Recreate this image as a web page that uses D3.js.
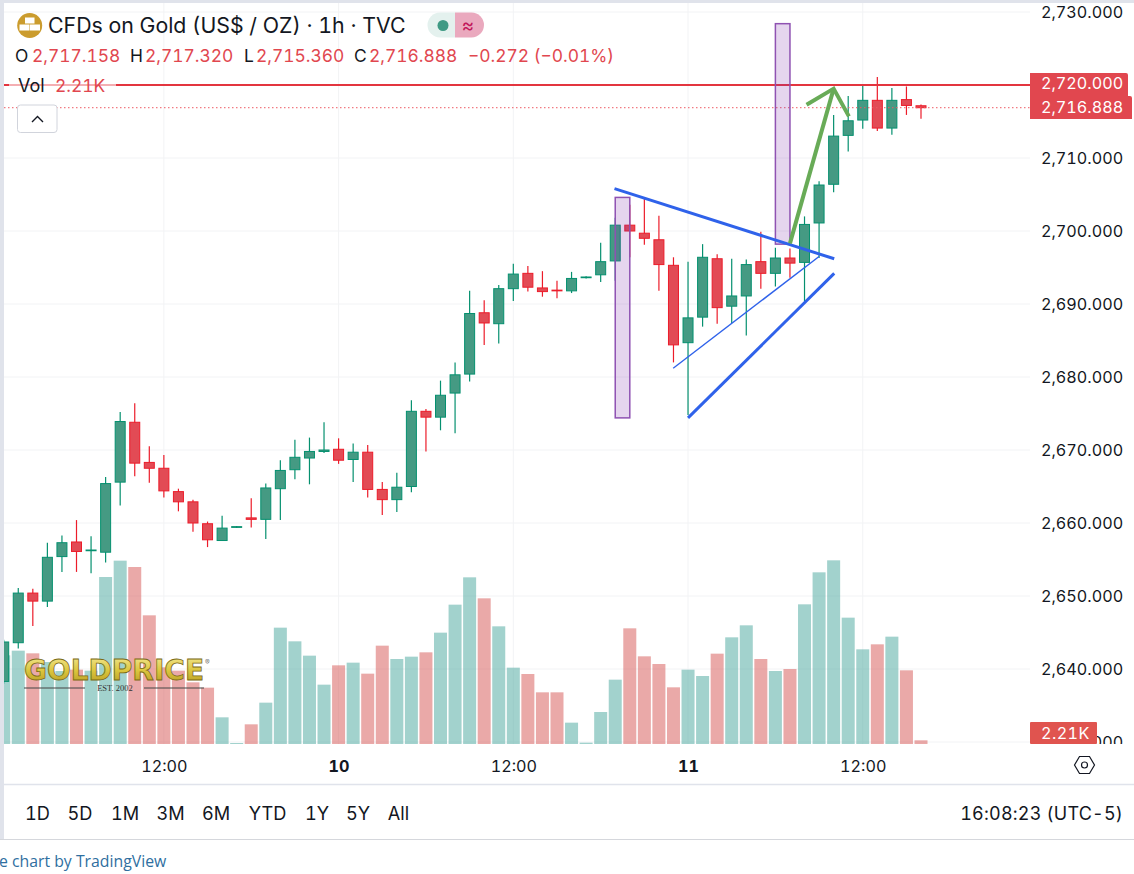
<!DOCTYPE html>
<html>
<head>
<meta charset="utf-8">
<script src="https://cdn.jsdelivr.net/npm/d3@7"></script>
<style>
	html, body { margin: 0; padding: 0; background: #fff; overflow: hidden; }
	svg { display: block; }
	text { font-family: Inter, "Open Sans", sans-serif; font-variant-numeric: tabular-nums; }
</style>
</head>
<body>
<svg id="canvas" width="1134" height="874"></svg>
<script>
// hourly bars, left to right
var opens = [2638.3,2643.6,2650.4,2649.3,2655.4,2657.4,2656.2,2656.0,2665.6,2673.8,2668.3,2667.5,2664.3,2662.9,2659.9,2657.6,2659.4,2660.7,2660.5,2664.7,2667.3,2668.9,2669.8,2670.1,2668.7,2669.7,2664.6,2663.2,2665.0,2675.3,2674.5,2677.8,2680.4,2688.8,2687.3,2692.1,2694.2,2692.2,2691.9,2691.8,2693.6,2694.0,2695.9,2700.8,2699.7,2698.8,2695.3,2684.7,2688.2,2696.2,2689.7,2691.1,2695.8,2694.2,2696.3,2695.7,2701.1,2706.4,2713.1,2715.2,2717.9,2714.1,2718.0,2717.158];
var highs = [2644.0,2651.1,2651.0,2657.3,2658.3,2660.4,2658.2,2666.3,2675.2,2676.4,2670.5,2669.3,2664.7,2663.2,2660.2,2661.0,2659.6,2663.4,2665.4,2668.6,2671.4,2671.7,2673.8,2671.6,2670.9,2670.7,2665.6,2666.9,2676.8,2675.6,2679.5,2682.0,2691.8,2690.5,2692.6,2695.5,2695.2,2694.5,2693.2,2694.4,2693.8,2698.4,2701.8,2703.6,2704.4,2702.1,2696.4,2695.8,2698.2,2696.8,2696.2,2696.1,2699.9,2697.7,2697.6,2702.0,2706.8,2715.9,2718.5,2720.0,2721.1,2719.6,2719.8,2717.32];
var lows = [2638.0,2642.8,2645.9,2648.5,2653.3,2653.3,2653.1,2654.6,2662.4,2666.4,2665.5,2663.5,2661.6,2658.8,2656.7,2657.6,2659.3,2659.4,2657.8,2660.4,2666.0,2665.3,2669.6,2668.1,2665.6,2663.5,2661.1,2661.5,2664.2,2669.8,2672.7,2672.3,2679.4,2684.4,2684.6,2690.4,2691.7,2691.0,2690.8,2691.5,2693.5,2693.0,2693.2,2696.4,2698.1,2691.8,2682.0,2674.8,2686.9,2687.3,2687.4,2685.7,2692.1,2692.4,2693.6,2690.4,2696.3,2705.3,2710.9,2714.0,2713.7,2713.2,2715.9,2715.36];
var closes = [2643.7,2650.4,2649.3,2655.3,2657.3,2656.1,2656.3,2665.4,2673.9,2668.2,2667.5,2664.4,2662.9,2660.0,2657.7,2659.3,2659.5,2660.5,2664.8,2667.2,2669.0,2669.8,2670.0,2668.6,2669.7,2664.6,2663.2,2664.9,2675.3,2674.5,2677.5,2680.3,2688.7,2687.4,2692.1,2694.1,2692.3,2691.7,2691.8,2693.5,2693.7,2695.8,2700.8,2700.0,2699.0,2695.4,2684.4,2688.1,2696.4,2689.5,2691.1,2695.4,2694.2,2696.3,2695.6,2700.9,2706.3,2713.0,2715.1,2717.9,2714.1,2717.9,2717.2,2716.888];
var volumes = [53.2,56.0,54.4,49.2,43.8,44.6,44.0,100.2,110.0,106.2,77.2,46.0,44.0,37.0,33.8,16.0,0.6,11.8,24.8,69.8,61.6,53.0,35.6,47.2,48.8,42.2,59.0,51.0,52.4,55.0,66.8,83.6,100.0,87.4,70.6,45.8,42.0,31.0,31.0,12.8,0.8,19.2,38.6,69.4,52.6,48.0,34.0,44.6,40.8,54.2,64.0,71.2,51.0,43.8,45.0,83.8,103.0,110.2,75.8,56.8,59.8,64.4,44.2,2.21];

var priceTicks = [2730,2720,2710,2700,2690,2680,2670,2660,2650,2640,2630];
var timeTicks = [11,23,35,47,59];
var timeLabels = ["12:00","10","12:00","11","12:00"];
var rangeLabels = ["1D","5D","1M","3M","6M","YTD","1Y","5Y","All"];
var rangeX = [37.5,80,125,170.5,216,267.5,317,358,398.5];

// drawings on the chart, [bar index, price]
var trendLines = [
	{from: [41.95,2705.8], to: [57.04,2696.2], w: 3},
	{from: [47.0,2674.4], to: [57.04,2694.2], w: 3},
	{from: [45.98,2681.2], to: [56.0,2696.5], w: 1.4}
];
var boxes = [
	{i0: 42, i1: 43, top: 2704.6, bottom: 2674.4},
	{i0: 53, i1: 54, top: 2728.4, bottom: 2698.2}
];
var arrowShaft = [[54.0,2698.3],[57.0,2719.5]];
var arrowHead = [[55.14,2717.3],[57.0,2719.5],[58.05,2715.7]];
var resistance = 2720;
var lastClose = 2716.888;

var upBody = "#459a83", upLine = "#05906f", downBody = "#e24b55", downLine = "#ec1c2a";
var red = "#e1474f";

var svg = d3.select("#canvas");

var x = d3.scaleLinear().domain([0,63]).range([3.7,921]);
var y = d3.scaleLinear().domain([2630,2730]).range([742,12]);
var vol = d3.scaleLinear().domain([0,120]).range([744,544]);

var bars = d3.range(opens.length).map(function(i){
	return {i: i, o: opens[i], h: highs[i], l: lows[i], c: closes[i], v: volumes[i], up: closes[i] >= opens[i]};
});

var defs = svg.append("defs");
defs.append("clipPath").attr("id", "pane")
	.append("rect").attr("x", 4).attr("y", 3).attr("width", 1026).attr("height", 741);
defs.append("clipPath").attr("id", "scale")
	.append("rect").attr("x", 1030).attr("y", 0).attr("width", 104).attr("height", 744);
var gold = defs.append("linearGradient").attr("id", "gold")
	.attr("x1", 0).attr("y1", 0).attr("x2", 0).attr("y2", 1);
gold.append("stop").attr("offset", "0%").attr("stop-color", "#f5ea9a");
gold.append("stop").attr("offset", "50%").attr("stop-color", "#dcc63e");
gold.append("stop").attr("offset", "100%").attr("stop-color", "#b0941f");

function drawFrame(){
	svg.append("rect").attr("x", 0).attr("y", 0).attr("width", 1134).attr("height", 3).attr("fill", "#e0e3eb");
	svg.append("rect").attr("x", 0).attr("y", 0).attr("width", 4).attr("height", 839).attr("fill", "#e0e3eb");
	svg.append("line").attr("x1", 4).attr("x2", 1134).attr("y1", 784.5).attr("y2", 784.5)
		.attr("stroke", "#e0e3eb").attr("stroke-width", 1.5);
	svg.append("line").attr("x1", 0).attr("x2", 1134).attr("y1", 839.5).attr("y2", 839.5)
		.attr("stroke", "#d5d7dc").attr("stroke-width", 1.2);
}

function drawGrid(pane){
	pane.selectAll(".hgrid")
		.data(priceTicks)
		.enter()
		.append("line")
		.attr("class", "hgrid")
		.attr("x1", 4).attr("x2", 1030)
		.attr("y1", function(d){ return y(d); })
		.attr("y2", function(d){ return y(d); })
		.attr("stroke", "#f2f3f5").attr("stroke-width", 1);
	pane.selectAll(".vgrid")
		.data(timeTicks)
		.enter()
		.append("line")
		.attr("class", "vgrid")
		.attr("x1", function(d){ return x(d); })
		.attr("x2", function(d){ return x(d); })
		.attr("y1", 3).attr("y2", 744)
		.attr("stroke", "#f2f3f5").attr("stroke-width", 1);
}

function drawVolume(pane){
	pane.selectAll(".vol")
		.data(bars)
		.enter()
		.append("rect")
		.attr("class", "vol")
		.attr("x", function(d){ return x(d.i) - 6.5; })
		.attr("width", 13)
		.attr("y", function(d){ return vol(d.v); })
		.attr("height", function(d){ return vol(0) - vol(d.v); })
		.attr("fill", function(d){ return d.up ? "rgba(70,165,155,.5)" : "rgba(213,83,81,.5)"; });
}

function drawCandles(pane){
	var g = pane.selectAll(".candle")
		.data(bars)
		.enter()
		.append("g")
		.attr("class", "candle");
	g.append("line")
		.attr("x1", function(d){ return x(d.i); })
		.attr("x2", function(d){ return x(d.i); })
		.attr("y1", function(d){ return y(d.h); })
		.attr("y2", function(d){ return y(d.l); })
		.attr("stroke", function(d){ return d.up ? upLine : downLine; })
		.attr("stroke-width", 1.2);
	g.append("rect")
		.attr("x", function(d){ return x(d.i) - 5; })
		.attr("width", 10)
		.attr("y", function(d){ return y(Math.max(d.o, d.c)); })
		.attr("height", function(d){ return Math.max(0.5, Math.abs(y(d.o) - y(d.c))); })
		.attr("fill", function(d){ return d.up ? upBody : downBody; })
		.attr("stroke", function(d){ return d.up ? upLine : downLine; })
		.attr("stroke-width", 1);
}

function drawLevels(pane){
	pane.append("line")
		.attr("x1", 4).attr("x2", 1030)
		.attr("y1", y(resistance)).attr("y2", y(resistance))
		.attr("stroke", "#e3353f").attr("stroke-width", 2);
	pane.append("line")
		.attr("x1", 4).attr("x2", 1030)
		.attr("y1", y(lastClose)).attr("y2", y(lastClose))
		.attr("stroke", "#ee5a63").attr("stroke-width", 1).attr("stroke-dasharray", "1.5 2.5");
}

function drawAnnotations(pane){
	pane.selectAll(".box")
		.data(boxes)
		.enter()
		.append("rect")
		.attr("class", "box")
		.attr("x", function(d){ return x(d.i0); })
		.attr("width", function(d){ return x(d.i1) - x(d.i0); })
		.attr("y", function(d){ return y(d.top); })
		.attr("height", function(d){ return y(d.bottom) - y(d.top); })
		.attr("fill", "rgba(123,44,170,.2)")
		.attr("stroke", "#8f52b2").attr("stroke-width", 1.5);
	pane.selectAll(".trend")
		.data(trendLines)
		.enter()
		.append("line")
		.attr("class", "trend")
		.attr("x1", function(d){ return x(d.from[0]); })
		.attr("y1", function(d){ return y(d.from[1]); })
		.attr("x2", function(d){ return x(d.to[0]); })
		.attr("y2", function(d){ return y(d.to[1]); })
		.attr("stroke", "#2f62ea")
		.attr("stroke-width", function(d){ return d.w; });
	var line = d3.line()
		.x(function(d){ return x(d[0]); })
		.y(function(d){ return y(d[1]); });
	pane.selectAll(".arrow")
		.data([arrowShaft, arrowHead])
		.enter()
		.append("path")
		.attr("class", "arrow")
		.attr("d", line)
		.attr("fill", "none")
		.attr("stroke", "#68ab57").attr("stroke-width", 4);
}

function drawAxes(){
	var priceAxis = d3.axisRight(y)
		.tickValues(priceTicks)
		.tickSize(0)
		.tickPadding(0)
		.tickFormat(d3.format(",.3f"));
	var gp = svg.append("g")
		.attr("clip-path", "url(#scale)")
		.append("g")
		.attr("transform", "translate(1041,0)")
		.call(priceAxis);
	gp.select(".domain").remove();
	gp.selectAll("text").attr("font-size", 16.2).attr("fill", "#131722").style("font-family", "Inter");

	var timeAxis = d3.axisBottom(x)
		.tickValues(timeTicks)
		.tickSize(0)
		.tickPadding(0)
		.tickFormat(function(d, i){ return timeLabels[i]; });
	var gt = svg.append("g")
		.attr("transform", "translate(0,760)")
		.call(timeAxis);
	gt.select(".domain").remove();
	gt.selectAll("text")
		.attr("font-size", 16.2).attr("fill", "#131722")
		.style("font-family", "Inter")
		.attr("font-weight", function(d, i){ return timeLabels[i].length == 2 ? 700 : 400; });

	svg.append("path")
		.attr("d", "M1074.5 765 L1079.5 756.5 L1089.5 756.5 L1094.5 765 L1089.5 773.5 L1079.5 773.5 Z")
		.attr("fill", "none").attr("stroke", "#131722").attr("stroke-width", 1.2);
	svg.append("circle").attr("cx", 1084.5).attr("cy", 765).attr("r", 3)
		.attr("fill", "none").attr("stroke", "#131722").attr("stroke-width", 1.2);
}

function drawPriceTags(){
	svg.append("path")
		.attr("d", "M1030 73 H1126 Q1128 73 1128 75 V96 H1130 Q1132 96 1132 98 V119 H1030 Z")
		.attr("fill", red);
	svg.selectAll(".tag")
		.data([[d3.format(",.3f")(resistance), 89], [d3.format(",.3f")(lastClose), 113]])
		.enter()
		.append("text")
		.attr("class", "tag")
		.attr("x", 1041)
		.attr("y", function(d){ return d[1]; })
		.attr("font-size", 16.2)
		.attr("fill", "#fff")
		.text(function(d){ return d[0]; });
	svg.append("rect")
		.attr("x", 1030).attr("y", 722).attr("width", 67).attr("height", 22).attr("rx", 1)
		.attr("fill", "#e0544f");
	svg.append("text")
		.attr("x", 1041).attr("y", 739)
		.attr("font-size", 16.2).attr("letter-spacing", 0.4).attr("fill", "#fff")
		.text("2.21K");
}

function drawLogo(){
	var g = svg.append("g");
	g.append("text")
		.attr("x", 24).attr("y", 680)
		.attr("textLength", 180).attr("lengthAdjust", "spacingAndGlyphs")
		.attr("font-size", 28).attr("font-weight", 700)
		.style("font-family", "'DejaVu Sans'")
		.attr("fill", "url(#gold)").attr("stroke", "#7a6a14").attr("stroke-width", 0.8)
		.text("GOLDPRICE");
	g.append("text")
		.attr("x", 205).attr("y", 665)
		.attr("font-size", 7).attr("fill", "#777")
		.text("®");
	g.selectAll(".rule")
		.data([[24,85],[144,204]])
		.enter()
		.append("line")
		.attr("class", "rule")
		.attr("x1", function(d){ return d[0]; })
		.attr("x2", function(d){ return d[1]; })
		.attr("y1", 688).attr("y2", 688)
		.attr("stroke", "#444").attr("stroke-width", 1);
	g.append("text")
		.attr("x", 115).attr("y", 690.5)
		.attr("text-anchor", "middle")
		.attr("font-size", 8.5).attr("fill", "#333")
		.style("font-family", "'Liberation Serif'")
		.text("EST. 2002");
}

function drawLegend(){
	// gold bars badge
	svg.append("circle").attr("cx", 29.7).attr("cy", 25.5).attr("r", 12.5).attr("fill", "#cb9c2e");
	svg.selectAll(".ingot")
		.data([[25,17.5,9.5],[19.5,24.5,10],[30,24.5,10]])
		.enter()
		.append("rect")
		.attr("class", "ingot")
		.attr("x", function(d){ return d[0]; })
		.attr("y", function(d){ return d[1]; })
		.attr("width", function(d){ return d[2]; })
		.attr("height", 6)
		.attr("fill", "#fff");

	svg.append("text").attr("x", 48).attr("y", 33)
		.attr("font-size", 21.3).attr("fill", "#131722")
		.text("CFDs on Gold (US$ / OZ) · 1h · TVC");

	svg.append("path").attr("d", "M455 12.5 H440 A12.5 12.5 0 0 0 440 37.5 H455 Z").attr("fill", "#e4f1ee");
	svg.append("path").attr("d", "M455 12.5 H471.5 A12.5 12.5 0 0 1 471.5 37.5 H455 Z").attr("fill", "#eaa9be");
	svg.append("circle").attr("cx", 443).attr("cy", 25.5).attr("r", 5.5).attr("fill", "#3f9a84");
	svg.append("text").attr("x", 468).attr("y", 32)
		.attr("text-anchor", "middle").attr("font-size", 19).attr("fill", "#c2185b")
		.text("≈");

	var ohlc = [
		["O",15,"#131722"],["2,717.158",32,red],
		["H",130,"#131722"],["2,717.320",145,red],
		["L",244,"#131722"],["2,715.360",256,red],
		["C",354,"#131722"],["2,716.888",369,red],
		["−0.272 (−0.01%)",468,red]
	];
	svg.selectAll(".ohlc")
		.data(ohlc)
		.enter()
		.append("text")
		.attr("class", "ohlc")
		.attr("x", function(d){ return d[1]; })
		.attr("y", 62)
		.attr("font-size", 17.4)
		.attr("fill", function(d){ return d[2]; })
		.text(function(d){ return d[0]; });

	// the legend row washes out the level line behind it
	svg.append("rect").attr("x", 9).attr("y", 74).attr("width", 107).attr("height", 22)
		.attr("fill", "#fff").attr("fill-opacity", 0.6);
	svg.append("text").attr("x", 18).attr("y", 91.5)
		.attr("font-size", 18).attr("fill", "#131722").text("Vol");
	svg.append("text").attr("x", 55).attr("y", 91.5)
		.attr("font-size", 17.4).attr("fill", red).text("2.21K");

	svg.append("rect").attr("x", 17.5).attr("y", 105).attr("width", 39.5).attr("height", 27.5).attr("rx", 3)
		.attr("fill", "#fff").attr("stroke", "#d1d4dc");
	svg.append("path").attr("d", "M32 122 L37.5 116.5 L43 122")
		.attr("fill", "none").attr("stroke", "#131722").attr("stroke-width", 1.4);
}

function drawToolbar(){
	svg.selectAll(".range")
		.data(rangeLabels)
		.enter()
		.append("text")
		.attr("class", "range")
		.attr("x", function(d, i){ return rangeX[i]; })
		.attr("y", 820)
		.attr("text-anchor", "middle")
		.attr("font-size", 18.2).attr("fill", "#131722")
		.text(function(d){ return d; });
	svg.append("text").attr("x", 1123).attr("y", 820)
		.attr("text-anchor", "end")
		.attr("font-size", 18).attr("letter-spacing", 0.2).attr("fill", "#131722")
		.text("16:08:23 (UTC-5)");
	svg.append("text").attr("x", -1).attr("y", 867)
		.attr("font-size", 15.8).attr("fill", "#2f6f9f")
		.style("font-family", "'Open Sans'")
		.text("e chart by TradingView");
}

function draw(){
	var pane = svg.append("g").attr("clip-path", "url(#pane)");
	drawGrid(pane);
	drawVolume(pane);
	drawCandles(pane);
	drawLevels(pane);
	drawAnnotations(pane);
	drawAxes();
	drawPriceTags();
	drawLogo();
	drawLegend();
	drawToolbar();
	drawFrame();
}

draw();
</script>
</body>
</html>
